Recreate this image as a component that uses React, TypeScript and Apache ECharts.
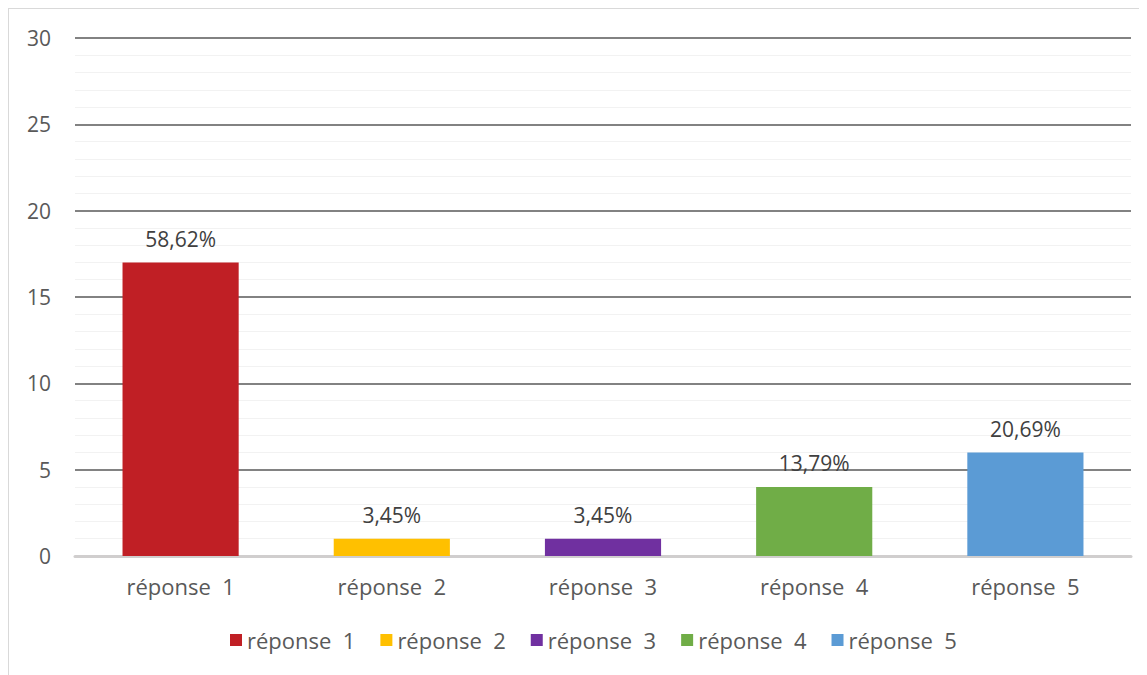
import React, { useEffect, useRef } from "react";
import * as echarts from "echarts";

const categories = ["réponse  1", "réponse  2", "réponse  3", "réponse  4", "réponse  5"];
const values = [17, 1, 1, 4, 6];
const percentLabels = ["58,62%", "3,45%", "3,45%", "13,79%", "20,69%"];
const colors = ["#c01f25", "#ffc000", "#7030a0", "#70ad47", "#5b9bd5"];
const yTicks = [0, 5, 10, 15, 20, 25, 30];

const FONT = "'Open Sans', 'Noto Sans', sans-serif";
const FS = 22;

export default function App() {
  const ref = useRef<HTMLDivElement>(null);
  useEffect(() => {
    if (!ref.current) return;
    const chart = echarts.init(ref.current, undefined, { renderer: "svg" });
    const series = categories.map((name, i) => ({
      name,
      type: "bar",
      stack: "all",
      barWidth: "55%",
      itemStyle: { color: colors[i] },
      data: categories.map((_, j) => (j === i ? values[i] : null)),
      label: {
        show: true,
        position: "top",
        distance: 13,
        formatter: () => percentLabels[i],
        color: "#404040",
        fontSize: FS - 1,
        fontFamily: FONT,
      },
    }));
    chart.setOption({
      animation: false,
      grid: { left: 66, right: 16, top: 29, bottom: 119, containLabel: false },
      legend: {
        bottom: 19,
        left: 216,
        itemWidth: 12,
        itemHeight: 12,
        itemGap: 25,
        icon: "rect",
        textStyle: { color: "#595959", fontSize: FS, fontFamily: FONT },
        data: categories,
      },
      xAxis: {
        type: "category",
        data: categories,
        axisTick: { show: false },
        axisLine: { lineStyle: { color: "#d0cece", width: 3 } },
        axisLabel: { color: "#595959", fontSize: FS, fontFamily: FONT, margin: 19 },
      },
      yAxis: {
        type: "value",
        min: yTicks[0],
        max: yTicks[yTicks.length - 1],
        interval: 5,
        axisLine: { show: false },
        axisTick: { show: false },
        axisLabel: { color: "#595959", fontSize: FS - 1, fontFamily: FONT, margin: 24 },
        splitLine: { lineStyle: { color: "#595959", width: 1.5 } },
        minorTick: { show: false, splitNumber: 5 },
        minorSplitLine: { show: true, lineStyle: { color: "#f2f2f2", width: 1 } },
      },
      series,
    });
    return () => chart.dispose();
  }, []);
  return (
    <div
      ref={ref}
      style={{
        width: 1140,
        height: 668,
        boxSizing: "border-box",
        border: "1px solid #d9d9d9",
        background: "#fff",
      }}
    />
  );
}
